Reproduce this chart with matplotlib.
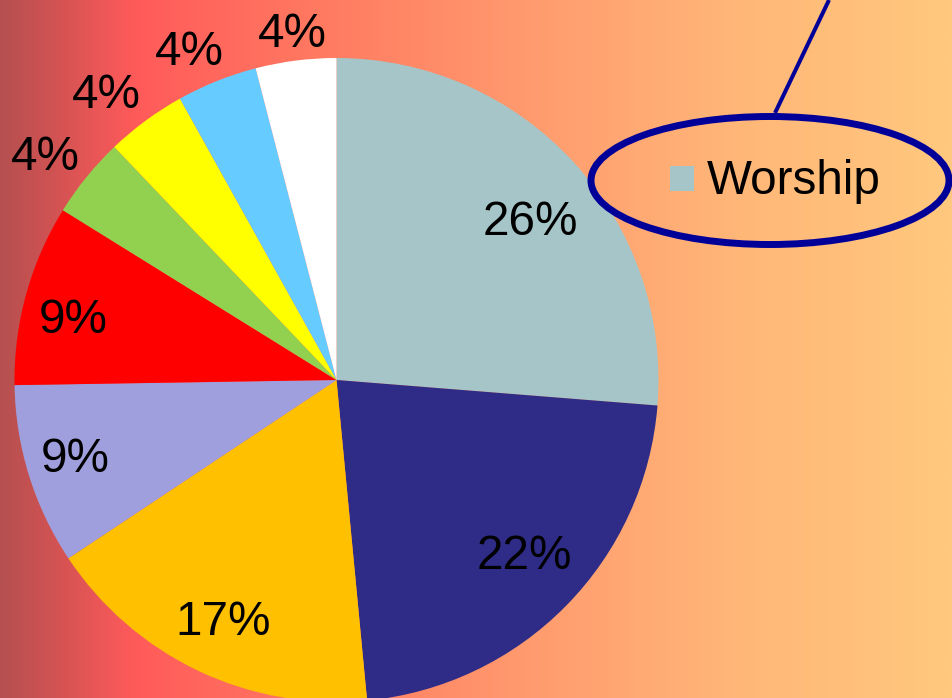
import numpy as np
import matplotlib.pyplot as plt
from matplotlib.colors import LinearSegmentedColormap
from matplotlib.patches import Ellipse, Rectangle

# slice values (percent) clockwise from 12 o'clock
values = [26, 22, 17, 9, 9, 4, 4, 4, 4]
colors = ["#a5c5c9", "#2e2c86", "#ffc000", "#9f9fdd", "#ff0000",
          "#92d050", "#ffff00", "#66ccff", "#ffffff"]
legend_label = "Worship"

# label placement: radial distance (fraction of radius) and angle nudge (deg)
label_dist = [0.785, 0.79, 0.817, 0.843, 0.841, 1.147, 1.147, 1.128, 1.096]
label_nudge = [-2.8, 2.1, 0.0, -1.2, 1.7, 1.2, 2.1, 2.0, -0.1]

W, H = 953, 698
FS = 34.3
plt.rcParams["font.family"] = ["Liberation Sans", "DejaVu Sans"]

fig = plt.figure(figsize=(W / 100, H / 100), dpi=100)
ax = fig.add_axes([0, 0, 1, 1])

# background gradient, left to right
bg = LinearSegmentedColormap.from_list(
    "bg",
    [(0.0, "#b65050"), (0.06, "#d45353"), (0.14, "#ff5a5a"),
     (0.33, "#ff7961"), (0.55, "#ff9a6e"), (0.78, "#ffb778"), (1.0, "#ffc87e")],
)
grad = np.linspace(0, 1, 512).reshape(1, -1)
ax.imshow(grad, cmap=bg, extent=(0, W, 0, H), aspect="auto", zorder=0)

cx, cy, r = 336.5, H - 380, 322
wedges, _, autotexts = ax.pie(
    values,
    colors=colors,
    startangle=90,
    counterclock=False,
    center=(cx, cy),
    radius=r,
    autopct="%1.0f%%",
    pctdistance=0.8,
    wedgeprops={"linewidth": 0, "zorder": 2},
    textprops={"fontsize": FS, "color": "black"},
)
# digit height in pixels, used to centre the glyphs on the anchor point
half_cap = 0.716 * FS * 100 / 72 / 2
for w, t, d, n in zip(wedges, autotexts, label_dist, label_nudge):
    mid = np.deg2rad((w.theta1 + w.theta2) / 2 + n)
    t.set_position((cx + d * r * np.cos(mid), cy + d * r * np.sin(mid) - half_cap))
    t.set_verticalalignment("baseline")
    t.set_zorder(5)

# legend entry circled
ax.add_patch(Rectangle((670, H - 191), 24, 25, facecolor=colors[0],
                       edgecolor="none", zorder=4))
ax.text(707, H - 194, legend_label, fontsize=FS, va="baseline", ha="left", zorder=4)
ax.add_patch(Ellipse((770, H - 180.5), 358, 128, fill=False,
                     edgecolor="#000099", linewidth=5.0, zorder=4))
ax.plot([775, 829], [H - 113, H], color="#000099", linewidth=2.9,
        solid_capstyle="butt", zorder=4)

ax.set_xlim(0, W)
ax.set_ylim(0, H)
ax.set_aspect("auto")
ax.axis("off")

fig.savefig("out.png", dpi=100)
